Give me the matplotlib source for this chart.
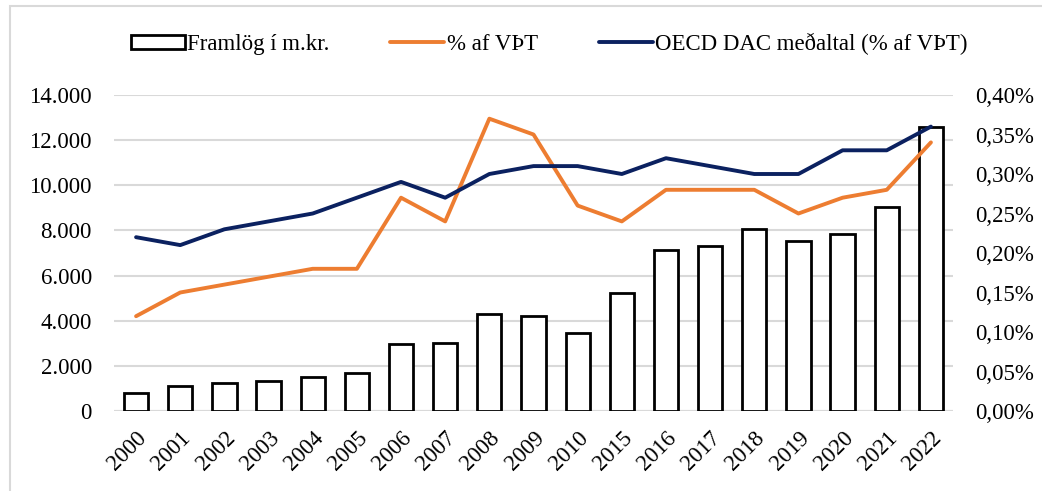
import numpy as np
import matplotlib
matplotlib.use("Agg")
from matplotlib import pyplot as plt
from matplotlib.patches import Rectangle
from matplotlib.ticker import FuncFormatter

plt.rcParams['font.family'] = ['Liberation Serif', 'DejaVu Serif']

years = ["2000", "2001", "2002", "2003", "2004", "2005", "2006", "2007", "2008", "2009",
         "2010", "2015", "2016", "2017", "2018", "2019", "2020", "2021", "2022"]
framlog = [800, 1100, 1250, 1350, 1500, 1700, 2950, 3000, 4280, 4230,
           3450, 5250, 7120, 7300, 8050, 7550, 7850, 9020, 12600]
pct_vlt = [0.12, 0.15, 0.16, 0.17, 0.18, 0.18, 0.27, 0.24, 0.37, 0.35,
           0.26, 0.24, 0.28, 0.28, 0.28, 0.25, 0.27, 0.28, 0.34]
oecd_dac = [0.22, 0.21, 0.23, 0.24, 0.25, 0.27, 0.29, 0.27, 0.30, 0.31,
            0.31, 0.30, 0.32, 0.31, 0.30, 0.30, 0.33, 0.33, 0.36]

orange = "#ED7D31"
navy = "#0B2160"
grid_c = "#D9D9D9"
fs = 16.5

fig = plt.figure(figsize=(10.42, 4.91), dpi=100)
ax = fig.add_axes([114 / 1042, 1 - 411 / 491, (953 - 114) / 1042, (411 - 95) / 491])
ax2 = ax.twinx()

# outer chart frame (partly cut off by the image edge)
fig.patches.append(Rectangle((10 / 1042, -0.05), 1.1, 1 - 6 / 491 + 0.05,
                             transform=fig.transFigure, fill=False,
                             edgecolor=grid_c, linewidth=1.5, zorder=0))

x = np.arange(len(years))
bars = ax.bar(x, framlog, width=0.55, color="white", edgecolor="black",
              linewidth=2, zorder=2, label="Framlög í m.kr.")
ax.set_ylim(0, 14000)
ax.set_yticks(np.arange(0, 14001, 2000))
ax.yaxis.set_major_formatter(FuncFormatter(lambda v, p: f"{int(v):,}".replace(",", ".")))
ax.set_xlim(-0.5, len(years) - 0.5)
ax.set_xticks(x)
ax.set_xticklabels(years, rotation=45, ha="right", rotation_mode="anchor")
ax.grid(axis="y", color=grid_c, linewidth=1.5, zorder=0)
ax.set_axisbelow(True)

l1, = ax2.plot(x, pct_vlt, color=orange, linewidth=2.8, solid_capstyle="round",
               label="% af VÞT")
l2, = ax2.plot(x, oecd_dac, color=navy, linewidth=2.8, solid_capstyle="round",
               label="OECD DAC meðaltal (% af VÞT)")
ax2.set_ylim(0, 0.40)
ax2.set_yticks(np.arange(0, 0.401, 0.05))
ax2.yaxis.set_major_formatter(FuncFormatter(lambda v, p: f"{v:.2f}%".replace(".", ",")))

for a in (ax, ax2):
    for s in a.spines.values():
        s.set_visible(False)
    a.tick_params(length=0, labelsize=fs, colors="black")
ax.tick_params(axis="y", pad=16)
ax2.tick_params(axis="y", pad=16)
ax.tick_params(axis="x", pad=12)
ax.axhline(0, color=grid_c, linewidth=1.5, zorder=1)

fig.legend([bars, l1, l2], [bars.get_label(), l1.get_label(), l2.get_label()],
           loc="center", bbox_to_anchor=(0.527, 1 - 44 / 491), ncol=3, frameon=False,
           fontsize=fs, handlelength=2.36, handleheight=0.6, columnspacing=2.65,
           handletextpad=0.1)

fig.savefig("out.png", dpi=100)
